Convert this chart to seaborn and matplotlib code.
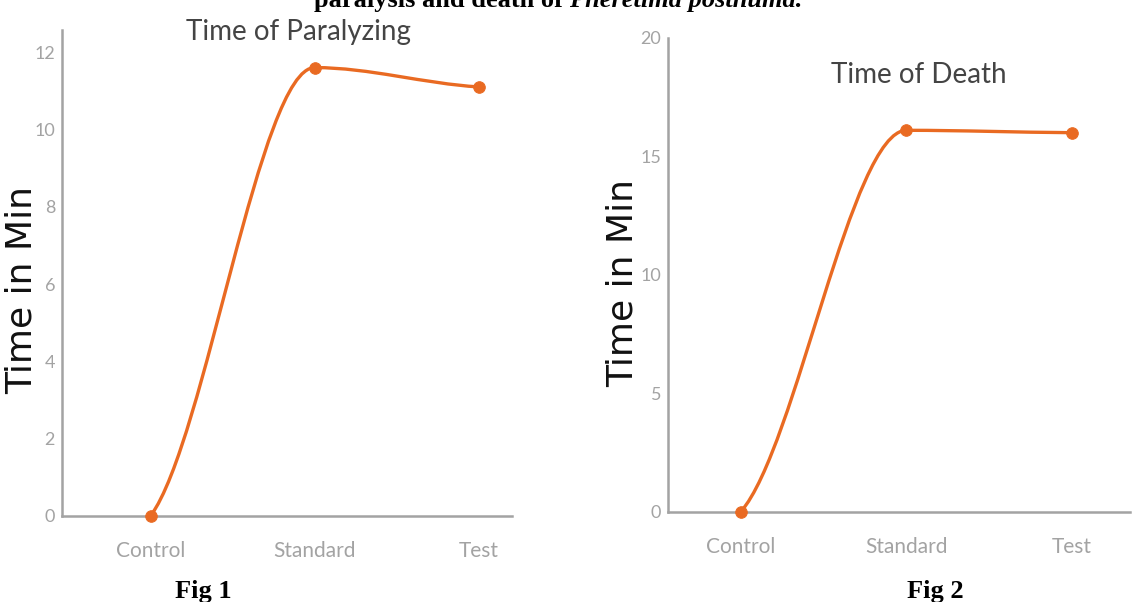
import numpy as np
import pandas as pd
import seaborn as sns
import matplotlib.pyplot as plt
from matplotlib.path import Path
from matplotlib.patches import PathPatch

groups = ['Control', 'Standard', 'Test']
paralyzing = [0.0, 11.6, 11.1]
death = [0.0, 16.1, 16.0]

sns.set_theme(style='white')
plt.rcParams['font.family'] = ['Lato', 'DejaVu Sans']

orange = '#E96A22'
grey = '#A3A3A3'


def smooth_path(xs, ys):
    # monotone style tangents: flat where the trend turns, half secant at the ends
    xs = np.asarray(xs, float)
    ys = np.asarray(ys, float)
    d = np.diff(ys) / np.diff(xs)
    m = np.zeros(len(xs))
    m[0] = d[0] / 2
    m[-1] = d[-1] / 2
    for i in range(1, len(xs) - 1):
        if d[i - 1] * d[i] > 0:
            m[i] = 2 / (1 / d[i - 1] + 1 / d[i])
    verts = [(xs[0], ys[0])]
    codes = [Path.MOVETO]
    for i in range(len(xs) - 1):
        h = xs[i + 1] - xs[i]
        verts += [(xs[i] + h / 3, ys[i] + m[i] * h / 3),
                  (xs[i + 1] - h / 3, ys[i + 1] - m[i + 1] * h / 3),
                  (xs[i + 1], ys[i + 1])]
        codes += [Path.CURVE4] * 3
    return Path(verts, codes)


def draw(ax, values, yticks, ylim, xlim):
    df = pd.DataFrame({'group': groups, 'value': values})
    ax.add_patch(PathPatch(smooth_path(range(len(groups)), values), fill=False,
                           edgecolor=orange, lw=2.4, zorder=2, capstyle='round'))
    sns.scatterplot(data=df, x='group', y='value', ax=ax, color=orange, s=70,
                    edgecolor=orange, zorder=3, clip_on=False)
    ax.set_xlim(*xlim)
    ax.set_ylim(*ylim)
    ax.set_yticks(yticks)
    ax.set_xlabel('')
    ax.set_ylabel('Time in Min', fontsize=26, color='#111111', family='DejaVu Sans')
    ax.tick_params(axis='both', length=0, colors=grey, labelsize=13)
    ax.tick_params(axis='x', labelsize=15, pad=18)
    ax.tick_params(axis='y', pad=5)
    for side in ['top', 'right']:
        ax.spines[side].set_visible(False)
    for side in ['left', 'bottom']:
        ax.spines[side].set_color(grey)
        ax.spines[side].set_linewidth(1.8)
    ax.grid(False)


fig = plt.figure(figsize=(11.38, 6.02), dpi=100)
ax1 = fig.add_axes([0.0545, 0.143, 0.395, 0.807])
ax2 = fig.add_axes([0.587, 0.150, 0.406, 0.787])

draw(ax1, paralyzing, [0, 2, 4, 6, 8, 10, 12], (0, 12.57), (-0.54, 2.2))
draw(ax2, death, [0, 5, 10, 15, 20], (0, 20), (-0.44, 2.35))
ax1.yaxis.set_label_coords(-0.052, 0.465)
ax2.yaxis.set_label_coords(-0.062, 0.483)

fig.text(0.262, 0.947, 'Time of Paralyzing', ha='center', va='center',
         fontsize=20, color='#444444')
fig.text(0.807, 0.875, 'Time of Death', ha='center', va='center',
         fontsize=20, color='#444444')

fig.text(0.179, 0.018, 'Fig 1', ha='center', va='center', fontsize=19,
         weight='bold', family='Liberation Serif', color='black')
fig.text(0.822, 0.018, 'Fig 2', ha='center', va='center', fontsize=19,
         weight='bold', family='Liberation Serif', color='black')

fig.text(0.5, 1.0, 'paralysis and death of ', ha='right', va='center', fontsize=19,
         weight='bold', family='Liberation Serif', color='black')
fig.text(0.5, 1.0, 'Pheretima posthuma.', ha='left', va='center', fontsize=19,
         weight='bold', style='italic', family='Liberation Serif', color='black')

fig.savefig('out.png', dpi=100)
